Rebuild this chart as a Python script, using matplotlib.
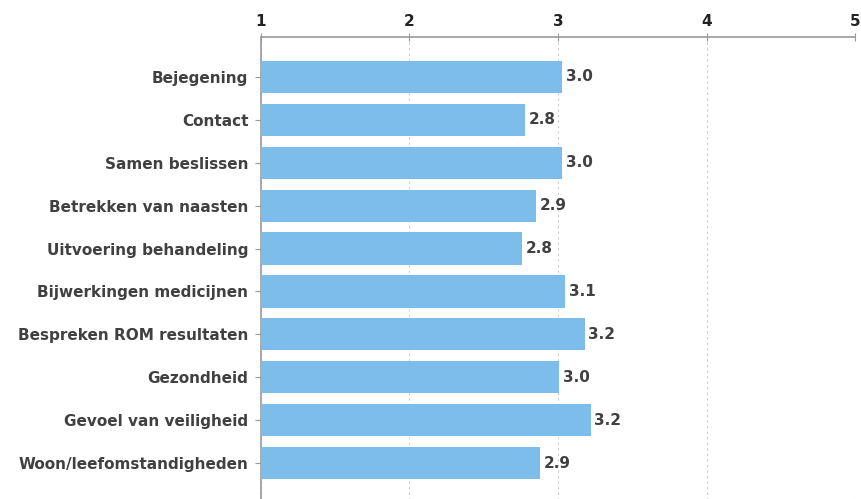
import matplotlib
matplotlib.use("Agg")
import matplotlib.pyplot as plt
import numpy as np

categories = ["Bejegening", "Contact", "Samen beslissen", "Betrekken van naasten",
              "Uitvoering behandeling", "Bijwerkingen medicijnen", "Bespreken ROM resultaten",
              "Gezondheid", "Gevoel van veiligheid", "Woon/leefomstandigheden"]
values = [3.03, 2.78, 3.03, 2.85, 2.76, 3.05, 3.18, 3.01, 3.22, 2.88]
labels = ["3.0", "2.8", "3.0", "2.9", "2.8", "3.1", "3.2", "3.0", "3.2", "2.9"]
xticks = [1, 2, 3, 4, 5]

FS = 11
TXT = "#404040"
fig = plt.figure(figsize=(8.62, 4.99), dpi=100)
W, H = 862, 499
left, right, top, bottom = 261, 855, 37, 503
ax = fig.add_axes([left / W, 1 - bottom / H, (right - left) / W, (bottom - top) / H])

y = np.arange(len(categories))
ax.barh(y, [v - 1 for v in values], left=1, height=0.75, color="#7cbdeb", zorder=3)
for yi, v, lab in zip(y, values, labels):
    ax.text(v + 0.025, yi, lab, va="center", ha="left", fontsize=FS,
            fontweight="bold", color=TXT, zorder=4)

ax.set_xlim(1, 5)
ax.set_ylim(len(categories) - 0.07, -0.93)
ax.set_yticks(y)
ax.set_yticklabels(categories, fontsize=FS, color=TXT, fontweight="bold")
ax.xaxis.tick_top()
ax.set_xticks(xticks)
ax.set_xticklabels([str(t) for t in xticks], fontsize=FS, color="#222222", fontweight="bold")
ax.tick_params(axis="x", direction="inout", length=6, color="#999999", pad=3)
ax.tick_params(axis="y", direction="out", length=4, color="#999999", pad=5)
for s in ["right", "bottom"]:
    ax.spines[s].set_visible(False)
for s in ["top", "left"]:
    ax.spines[s].set_color("#999999")
    ax.spines[s].set_linewidth(1.2)
ax.grid(axis="x", linestyle=(0, (2, 3)), color="#cccccc", linewidth=0.8, zorder=0)
ax.set_axisbelow(True)

fig.savefig("out.png", dpi=100)
